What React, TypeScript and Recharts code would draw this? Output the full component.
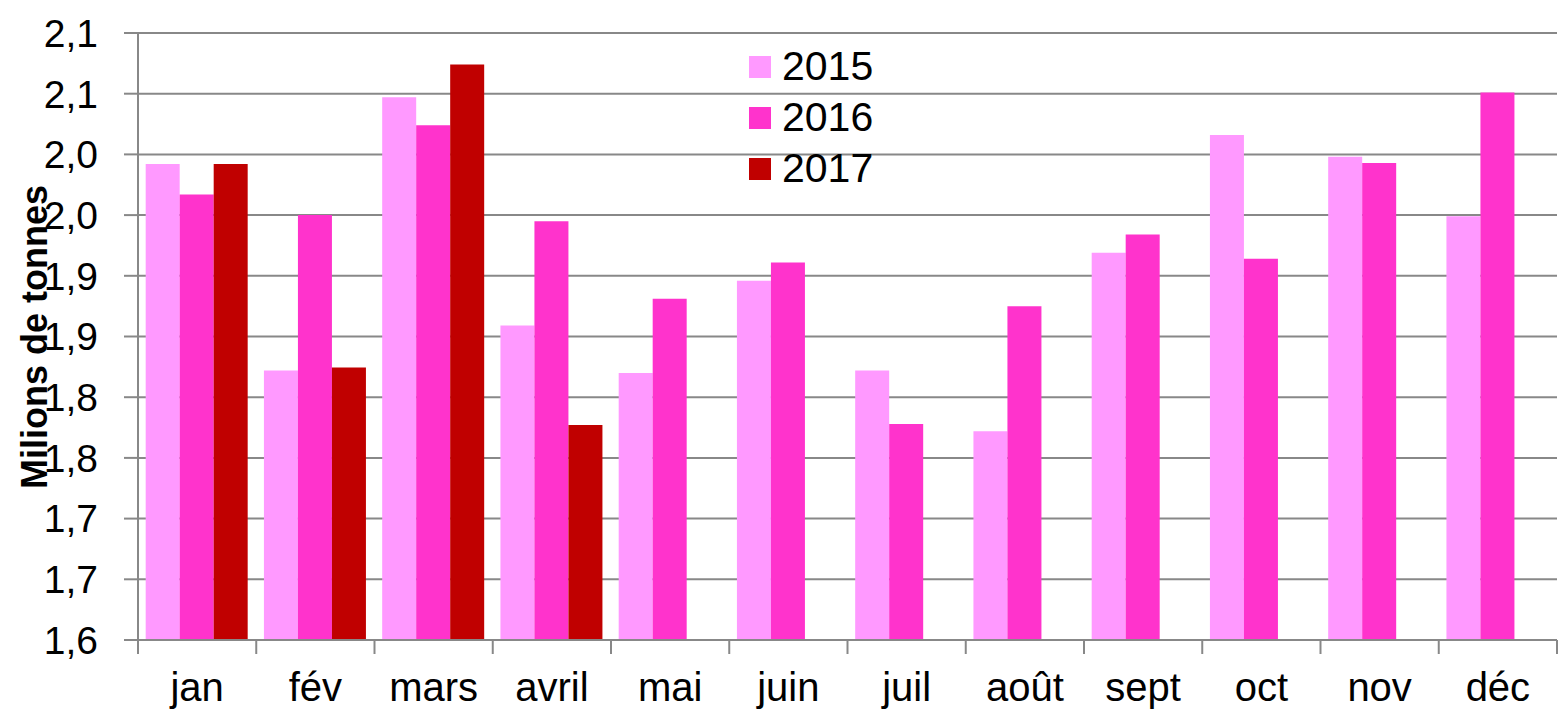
import React from 'react'
import { BarChart, Bar, XAxis, YAxis, CartesianGrid, Legend } from 'recharts'

const months = ['jan', 'fév', 'mars', 'avril', 'mai', 'juin', 'juil', 'août', 'sept', 'oct', 'nov', 'déc']
const y2015 = [1.992, 1.822, 2.047, 1.859, 1.82, 1.896, 1.822, 1.772, 1.919, 2.016, 1.998, 1.949]
const y2016 = [1.967, 1.95, 2.024, 1.945, 1.881, 1.911, 1.778, 1.875, 1.934, 1.914, 1.993, 2.051]
const y2017 = [1.992, 1.8245, 2.074, 1.777, null, null, null, null, null, null, null, null]
const yTicks = [1.6, 1.65, 1.7, 1.75, 1.8, 1.85, 1.9, 1.95, 2.0, 2.05, 2.1]

const data = months.map((m, i) => ({ month: m, a: y2015[i], b: y2016[i], c: y2017[i] }))

const FONT = "Arial, 'Liberation Sans', sans-serif"
const GRID = '#888888'
const W = 1559
const H = 711
const LEFT = 138
const RIGHT = 2
const BAND = (W - LEFT - RIGHT) / months.length

const fmt = (v: number) => (Math.round(v * 10 + 1e-6) / 10).toFixed(1).replace('.', ',')

const XTick = (props: any) => {
  const { x, y, payload, index } = props
  const axisY = y - 33
  const left = x - BAND / 2
  return (
    <g>
      <line x1={left} y1={axisY} x2={left} y2={axisY + 14} stroke={GRID} strokeWidth={2} />
      {index === months.length - 1 && (
        <line x1={x + BAND / 2} y1={axisY} x2={x + BAND / 2} y2={axisY + 14} stroke={GRID} strokeWidth={2} />
      )}
      <text x={x} y={y} dy="0.71em" textAnchor="middle" fontSize={40} fontFamily={FONT} fill="#000">
        {payload.value}
      </text>
    </g>
  )
}

const LegendBox = (props: any) => {
  const items = props.payload || []
  return (
    <div style={{ fontFamily: FONT, fontSize: 41, color: '#000' }}>
      {items.map((it: any) => (
        <div key={it.value} style={{ display: 'flex', alignItems: 'center', height: 51 }}>
          <div style={{ width: 22, height: 22, background: it.color, marginRight: 11 }} />
          <span style={{ lineHeight: '51px' }}>{it.value}</span>
        </div>
      ))}
    </div>
  )
}

const App: React.FC = () => {
  return (
    <div style={{ position: 'absolute', left: 0, top: 0, background: '#fff' }}>
      <BarChart
        width={W}
        height={H}
        data={data}
        margin={{ top: 33, right: RIGHT, bottom: 0, left: 0 }}
        barCategoryGap="6.5%"
        barGap={0}
      >
        <CartesianGrid vertical={false} stroke={GRID} strokeWidth={2} />
        <XAxis
          dataKey="month"
          height={71}
          axisLine={{ stroke: GRID, strokeWidth: 2 }}
          tickLine={false}
          tickSize={14}
          tickMargin={19}
          interval={0}
          tick={<XTick />}
        />
        <YAxis
          width={LEFT}
          domain={[1.6, 2.1]}
          ticks={yTicks}
          allowDataOverflow
          tickFormatter={fmt}
          axisLine={{ stroke: GRID, strokeWidth: 2 }}
          tickLine={{ stroke: GRID, strokeWidth: 2 }}
          tickSize={14}
          tickMargin={26}
          tick={{ fontSize: 39, fontFamily: FONT, fill: '#000' }}
          label={{
            content: () => (
              <text
                x={34}
                y={337}
                transform="rotate(-90 34 337)"
                textAnchor="middle"
                dominantBaseline="central"
                fontSize={36}
                fontWeight="bold"
                fontFamily={FONT}
                fill="#000"
              >
                Milions de tonnes
              </text>
            ),
          }}
        />
        <Legend
          layout="vertical"
          verticalAlign="middle"
          align="center"
          content={<LegendBox />}
          wrapperStyle={{ left: 749, top: 41, width: 200, margin: 0 }}
        />
        <Bar dataKey="a" name="2015" fill="#FF99FF" isAnimationActive={false} />
        <Bar dataKey="b" name="2016" fill="#FF33CC" isAnimationActive={false} />
        <Bar dataKey="c" name="2017" fill="#C00000" isAnimationActive={false} />
      </BarChart>
    </div>
  )
}

export default App
